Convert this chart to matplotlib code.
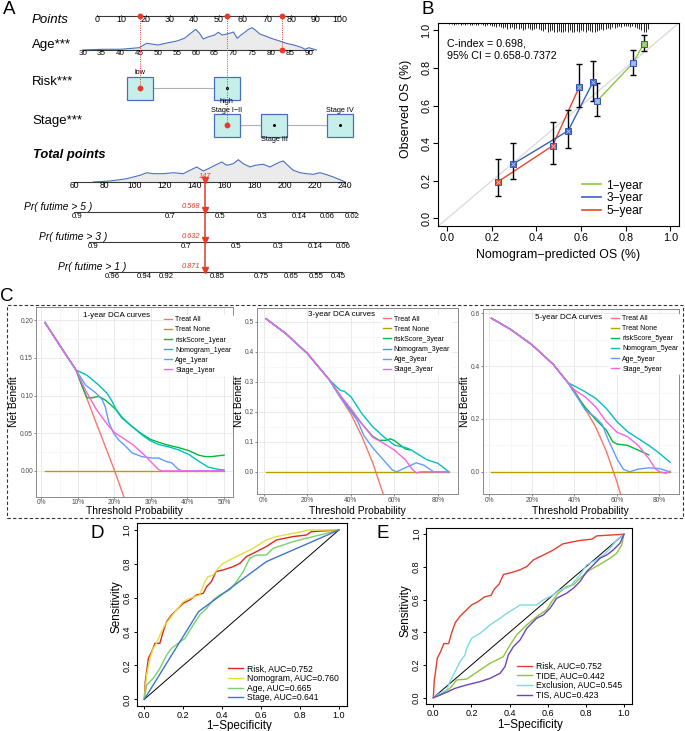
import numpy as np
import matplotlib
matplotlib.use("Agg")
import matplotlib.pyplot as plt
from matplotlib.patches import Rectangle
from matplotlib.lines import Line2D

plt.rcParams['font.family'] = ['Liberation Sans', 'DejaVu Sans']

# ======================= DATA =======================
# ---- Panel A: nomogram ----
points_ticks = [0, 10, 20, 30, 40, 50, 60, 70, 80, 90, 100]
age_ticks = [30, 35, 40, 45, 50, 55, 60, 65, 70, 75, 80, 85, 90]
age_points_per_year = 1.551
age_at_zero_points = 33.8
risk_levels = ['low', 'high']
risk_points = [17.5, 53.3]
stage_levels = ['Stage I\u2212II', 'Stage III', 'Stage IV']
stage_points = [53.3, 73.0, 100.0]
patient_age = 83
patient_risk = 'low'
patient_stage = 'Stage I\u2212II'
total_ticks = [60, 80, 100, 120, 140, 160, 180, 200, 220, 240]
total_score = 147
surv_labels = ['Pr( futime > 5 )', 'Pr( futime > 3 )', 'Pr( futime > 1 )']
surv_at_score = [0.568, 0.632, 0.871]
surv_beta = 0.0198
surv_ticks = [[0.9, 0.7, 0.5, 0.3, 0.14, 0.06, 0.02],
              [0.9, 0.7, 0.5, 0.3, 0.14, 0.06],
              [0.96, 0.94, 0.92, 0.85, 0.75, 0.65, 0.55, 0.45]]
age_grid = [30, 35, 40, 45, 47, 50, 52, 55, 57, 59, 60, 61, 62, 63, 65, 66, 67, 68,
            69, 70, 71, 72, 73, 74, 75, 76, 77, 78, 80, 82, 84, 86, 88, 89, 90, 92]
age_dens = [0.0, 0.7, 0.7, 2.3, 6.7, 5.0, 6.7, 9.0, 11.7, 17.7, 20.7, 16.7, 11.0, 12.7,
            15.0, 17.7, 15.0, 15.7, 16.7, 18.0, 11.7, 15.0, 17.7, 20.7, 22.3, 19.3, 16.0,
            14.7, 11.7, 9.3, 6.7, 5.0, 2.7, 0.7, 2.3, 0.0]
tot_grid = [72.8, 83.9, 95.0, 103.8, 108.3, 112.7, 119.3, 125.9, 132.6, 137.0, 141.5,
            145.9, 149.2, 153.6, 158.1, 161.4, 165.8, 169.1, 172.4, 176.9, 180.2, 185.7,
            190.1, 193.5, 196.8, 199.0, 201.2, 205.6, 210.1, 214.5, 218.9, 223.3, 227.8,
            232.2, 236.6, 240.0]
tot_dens = [0, 1, 3.3, 6.7, 9.3, 8.3, 8.3, 9.3, 8.3, 11.7, 15, 11, 13.3, 16.7, 20, 16.7,
            18.3, 22.3, 18.3, 15, 16.7, 17.7, 15, 17.7, 20, 21, 17.7, 11.7, 9.3, 8.3, 7.7,
            9.3, 7.3, 5, 2.3, 0]

# ---- Panel B: calibration ----
cal_names = ['1\u2212year', '3\u2212year', '5\u2212year']
cal_pred = [[0.673, 0.833, 0.881], [0.293, 0.542, 0.653], [0.226, 0.472, 0.591]]
cal_obs = [[0.626, 0.826, 0.929], [0.288, 0.466, 0.724], [0.194, 0.386, 0.697]]
cal_lo = [[0.543, 0.760, 0.888], [0.208, 0.377, 0.623], [0.119, 0.292, 0.594]]
cal_hi = [[0.719, 0.897, 0.977], [0.400, 0.577, 0.834], [0.315, 0.510, 0.822]]
cindex_text = 'C-index = 0.698,\n95% CI = 0.658-0.7372'
rug_bins = np.round(np.arange(0.01, 0.905, 0.01), 2)
rug_counts = [1, 1, 2, 1, 1, 2, 1, 2, 1, 2,
              2, 1, 2, 2, 1, 2, 3, 2, 2, 3,
              3, 4, 3, 4, 5, 4, 6, 5, 4, 6,
              5, 6, 5, 7, 6, 5, 6, 7, 6, 5,
              6, 7, 8, 6, 9, 8, 7, 9, 10, 8,
              9, 10, 8, 9, 7, 10, 9, 8, 9, 7,
              8, 9, 7, 8, 10, 9, 8, 7, 6, 7,
              6, 5, 6, 4, 5, 4, 3, 4, 3, 3,
              3, 4, 3, 4, 5, 6, 7, 9, 10, 6]

# ---- Panel C: decision curves ----
dca_1 = {
    'Treat All': ([0.01, 0.05, 0.095, 0.15, 0.20, 0.23], [0.197, 0.167, 0.134, 0.064, 0.001, -0.04]),
    'Treat None': ([0.01, 0.50], [0.0, 0.0]),
    'riskScore_1year': ([0.01, 0.05, 0.095, 0.112, 0.125, 0.139, 0.157, 0.175, 0.194, 0.207, 0.221, 0.248,
                         0.275, 0.298, 0.321, 0.348, 0.375, 0.403, 0.430, 0.448, 0.466, 0.50],
                        [0.197, 0.167, 0.134, 0.112, 0.097, 0.097, 0.099, 0.094, 0.086, 0.080, 0.071, 0.059,
                         0.049, 0.042, 0.038, 0.034, 0.031, 0.027, 0.021, 0.019, 0.019, 0.021]),
    'Nomogram_1year': ([0.01, 0.05, 0.095, 0.125, 0.157, 0.180, 0.194, 0.207, 0.221, 0.248, 0.275, 0.298,
                        0.321, 0.348, 0.375, 0.403, 0.430, 0.457, 0.484, 0.50],
                       [0.197, 0.167, 0.134, 0.127, 0.114, 0.103, 0.092, 0.079, 0.070, 0.059, 0.048, 0.040,
                        0.035, 0.032, 0.028, 0.022, 0.013, 0.005, 0.002, 0.0013]),
    'Age_1year': ([0.01, 0.05, 0.095, 0.121, 0.148, 0.166, 0.175, 0.185, 0.198, 0.212, 0.230, 0.248, 0.275,
                   0.303, 0.321, 0.339, 0.357, 0.375, 0.385, 0.50],
                  [0.197, 0.167, 0.134, 0.114, 0.104, 0.095, 0.085, 0.064, 0.050, 0.041, 0.033, 0.024, 0.019,
                   0.017, 0.017, 0.013, 0.0106, 0.002, 0.0, 0.0]),
    'Stage_1year': ([0.01, 0.05, 0.095, 0.12, 0.15, 0.18, 0.20, 0.25, 0.28, 0.30, 0.32, 0.33, 0.50],
                    [0.197, 0.167, 0.134, 0.108, 0.082, 0.062, 0.051, 0.035, 0.022, 0.012, 0.002, 0.0, 0.0]),
}
dca_3 = {
    'Treat All': ([0.01, 0.1, 0.2, 0.3, 0.4, 0.45, 0.5, 0.55], [0.510, 0.461, 0.394, 0.307, 0.192, 0.118, 0.030, -0.078]),
    'Treat None': ([0.01, 0.85], [0.0, 0.0]),
    'riskScore_3year': ([0.01, 0.1, 0.2, 0.3, 0.35, 0.40, 0.45, 0.50, 0.53, 0.56, 0.58, 0.60, 0.62, 0.65, 0.67],
                        [0.510, 0.461, 0.394, 0.307, 0.255, 0.205, 0.16, 0.118, 0.105, 0.105, 0.11, 0.104, 0.093, 0.076, 0.073]),
    'Nomogram_3year': ([0.01, 0.1, 0.2, 0.3, 0.35, 0.37, 0.40, 0.45, 0.50, 0.55, 0.60, 0.65, 0.68, 0.70, 0.75, 0.78, 0.80, 0.85],
                       [0.510, 0.461, 0.394, 0.307, 0.272, 0.268, 0.25, 0.194, 0.15, 0.117, 0.089, 0.081, 0.072, 0.062, 0.04, 0.033, 0.028, 0.0]),
    'Age_3year': ([0.01, 0.1, 0.2, 0.3, 0.35, 0.40, 0.43, 0.46, 0.50, 0.55, 0.59, 0.61, 0.66, 0.70, 0.735, 0.78, 0.85],
                  [0.510, 0.461, 0.394, 0.307, 0.25, 0.20, 0.17, 0.12, 0.08, 0.039, 0.006, 0.0, 0.017, 0.030, 0.022, 0.0, 0.0]),
    'Stage_3year': ([0.01, 0.1, 0.2, 0.3, 0.35, 0.40, 0.45, 0.50, 0.55, 0.60, 0.65, 0.68, 0.70, 0.72, 0.85],
                    [0.510, 0.461, 0.394, 0.307, 0.255, 0.21, 0.16, 0.115, 0.095, 0.072, 0.04, 0.01, -0.004, 0.0, 0.0]),
}
dca_5 = {
    'Treat All': ([0.01, 0.1, 0.2, 0.3, 0.4, 0.5, 0.55, 0.6, 0.63], [0.581, 0.539, 0.481, 0.407, 0.308, 0.170, 0.078, -0.038, -0.12]),
    'Treat None': ([0.01, 0.85], [0.0, 0.0]),
    'riskScore_5year': ([0.01, 0.1, 0.2, 0.3, 0.37, 0.40, 0.45, 0.50, 0.55, 0.58, 0.60, 0.65, 0.70, 0.75],
                        [0.581, 0.539, 0.481, 0.407, 0.337, 0.30, 0.245, 0.198, 0.158, 0.114, 0.105, 0.10, 0.082, 0.064]),
    'Nomogram_5year': ([0.01, 0.1, 0.2, 0.3, 0.37, 0.40, 0.45, 0.50, 0.55, 0.60, 0.65, 0.70, 0.75, 0.80, 0.85],
                       [0.581, 0.539, 0.481, 0.407, 0.337, 0.325, 0.303, 0.278, 0.24, 0.19, 0.152, 0.126, 0.10, 0.07, 0.036]),
    'Age_5year': ([0.01, 0.1, 0.2, 0.3, 0.37, 0.40, 0.45, 0.50, 0.53, 0.56, 0.60, 0.63, 0.66, 0.70, 0.75, 0.80, 0.85],
                  [0.581, 0.539, 0.481, 0.407, 0.337, 0.30, 0.235, 0.205, 0.18, 0.12, 0.05, 0.01, 0.0, 0.01, 0.015, 0.012, 0.0]),
    'Stage_5year': ([0.01, 0.1, 0.2, 0.3, 0.37, 0.40, 0.45, 0.50, 0.55, 0.60, 0.65, 0.70, 0.75, 0.78, 0.80, 0.83, 0.85],
                    [0.581, 0.539, 0.481, 0.407, 0.337, 0.31, 0.284, 0.246, 0.19, 0.15, 0.133, 0.10, 0.05, 0.012, 0.0, -0.006, 0.002]),
}
dca_titles = ['1-year DCA curves', '3-year DCA curves', '5-year DCA curves']
dca_colors = ['#F8766D', '#B79F00', '#00BA38', '#00BFC4', '#619CFF', '#F564E3']

# ---- Panel D / E: ROC ----
roc_risk = ([0, 0.005, 0.012, 0.021, 0.038, 0.055, 0.080, 0.097, 0.115, 0.140, 0.174, 0.200, 0.234, 0.268,
             0.303, 0.320, 0.345, 0.368, 0.405, 0.456, 0.491, 0.525, 0.576, 0.627, 0.679, 0.764, 0.832, 0.858, 1.0],
            [0, 0.104, 0.163, 0.242, 0.281, 0.331, 0.331, 0.400, 0.459, 0.498, 0.537, 0.567, 0.587, 0.616,
             0.626, 0.665, 0.695, 0.754, 0.764, 0.783, 0.803, 0.843, 0.872, 0.902, 0.941, 0.961, 0.970, 0.990, 1.0])
roc_nomo = ([0, 0.005, 0.012, 0.029, 0.046, 0.063, 0.080, 0.106, 0.132, 0.166, 0.200, 0.234, 0.285, 0.311,
             0.328, 0.354, 0.379, 0.405, 0.439, 0.474, 0.525, 0.559, 0.627, 0.679, 0.764, 0.850, 1.0],
            [0, 0.065, 0.144, 0.242, 0.301, 0.331, 0.380, 0.439, 0.478, 0.528, 0.577, 0.596, 0.616, 0.695,
             0.724, 0.734, 0.774, 0.803, 0.823, 0.843, 0.872, 0.892, 0.941, 0.961, 0.980, 1.0, 1.0])
roc_age = ([0, 0.012, 0.046, 0.080, 0.115, 0.140, 0.174, 0.209, 0.251, 0.285, 0.320, 0.354, 0.388, 0.439,
            0.474, 0.508, 0.542, 0.576, 0.627, 0.662, 0.713, 0.764, 0.832, 0.901, 1.0],
           [0, 0.085, 0.124, 0.183, 0.262, 0.301, 0.331, 0.360, 0.439, 0.498, 0.537, 0.587, 0.616, 0.646,
            0.695, 0.754, 0.833, 0.852, 0.852, 0.892, 0.911, 0.931, 0.951, 0.970, 1.0])
roc_stage = ([0, 0.279, 0.627, 1.0], [0, 0.518, 0.813, 1.0])
roc_tide = ([0, 0.035, 0.087, 0.122, 0.175, 0.245, 0.297, 0.367, 0.402, 0.437, 0.490, 0.542, 0.594, 0.621,
             0.656, 0.699, 0.734, 0.769, 0.822, 0.874, 0.927, 0.962, 0.988, 1.0],
            [0, 0.016, 0.057, 0.108, 0.114, 0.169, 0.210, 0.251, 0.322, 0.384, 0.445, 0.496, 0.537, 0.588,
             0.639, 0.680, 0.690, 0.731, 0.782, 0.816, 0.853, 0.884, 0.935, 1.0])
roc_excl = ([0, 0.035, 0.070, 0.087, 0.114, 0.140, 0.166, 0.175, 0.201, 0.245, 0.297, 0.350, 0.385, 0.428,
             0.455, 0.542, 0.577, 0.629, 0.664, 0.717, 0.769, 0.804, 0.839, 0.892, 0.927, 0.962, 1.0],
            [0, 0.027, 0.047, 0.098, 0.159, 0.220, 0.261, 0.302, 0.363, 0.394, 0.445, 0.486, 0.516, 0.547,
             0.567, 0.567, 0.598, 0.629, 0.659, 0.680, 0.751, 0.812, 0.833, 0.873, 0.914, 0.965, 1.0])
roc_tis = ([0, 0.035, 0.070, 0.114, 0.175, 0.245, 0.297, 0.350, 0.376, 0.393, 0.420, 0.455, 0.490, 0.542,
            0.577, 0.612, 0.647, 0.699, 0.734, 0.769, 0.804, 0.839, 0.874, 0.909, 0.944, 0.979, 1.0],
           [0, 0.016, 0.033, 0.057, 0.078, 0.098, 0.118, 0.149, 0.190, 0.261, 0.312, 0.353, 0.424, 0.486,
            0.506, 0.547, 0.608, 0.639, 0.669, 0.710, 0.771, 0.812, 0.853, 0.873, 0.904, 0.945, 1.0])
rocD_labels = ['Risk, AUC=0.752', 'Nomogram, AUC=0.760', 'Age, AUC=0.665', 'Stage, AUC=0.641']
rocE_labels = ['Risk, AUC=0.752', 'TIDE, AUC=0.442', 'Exclusion, AUC=0.545', 'TIS, AUC=0.423']

# ======================= FIGURE =======================
W, H = 685, 731
fig = plt.figure(figsize=(W / 100, H / 100), dpi=100)


def add_ax(l, t, r, b):
    return fig.add_axes([l / W, 1 - b / H, (r - l) / W, (b - t) / H])


def ftext(x, y, s, **kw):
    fig.text(x / W, 1 - y / H, s, **kw)


RED = '#e8392b'
AXC = '#3a3a3a'

# ---------------- Panel A ----------------
PX0, PXS = 97.0, 2.43


def px2x(px):
    return (px - PX0) / PXS


def tp2x(tp):
    return px2x(74.0 + (tp - 60) * 1.506)


def age2x(a):
    return (a - age_at_zero_points) * age_points_per_year


def surv2tp(s, s_ref):
    return total_score + (np.log(-np.log(s)) - np.log(-np.log(s_ref))) / surv_beta


axA = add_ax(0, 0, 360, 300)
axA.set_xlim(px2x(0), px2x(360))
axA.set_ylim(300, 0)
axA.axis('off')

lab_kw = dict(fontsize=9.5, va='center', ha='left')
# Points axis
yP = 16
axA.plot([0, 100], [yP, yP], color=AXC, lw=0.8)
for t in points_ticks:
    axA.plot([t, t], [yP, yP - 1.5], color=AXC, lw=0.6)
    axA.text(t, yP + 3.6, str(t), fontsize=6.4, ha='center', va='center')
axA.text(px2x(32), 20, 'Points', style='italic', **lab_kw)

# Age axis with density
yA = 50
ax_age = [age2x(a) for a in age_grid]
axA.fill_between(ax_age, yA, yA - np.array(age_dens), color='#ebebeb', lw=0)
axA.plot(ax_age, yA - np.array(age_dens), color='#4a6fc2', lw=0.8)
axA.plot([age2x(30), age2x(91)], [yA, yA], color=AXC, lw=0.8)
for a in age_ticks:
    axA.plot([age2x(a)] * 2, [yA, yA + 1.2], color=AXC, lw=0.6)
    axA.text(age2x(a), yA + 3.6, str(a), fontsize=5.8, ha='center', va='center')
axA.text(px2x(32), 45, 'Age***', **lab_kw)

# Risk row
yR = 88
bw, bh = 26 / PXS, 23
axA.plot(risk_points, [yR, yR], color='#b0b0b0', lw=0.8, zorder=1)
for lv, p in zip(risk_levels, risk_points):
    axA.add_patch(Rectangle((p - bw / 2, yR - bh / 2), bw, bh, fc='#c6efea', ec='#4a6fc2', lw=0.9, zorder=2))
    axA.plot(p, yR, 'o', ms=1.2, color='black', zorder=3)
axA.text(risk_points[0], yR - 15, risk_levels[0], fontsize=5.3, ha='center', va='center')
axA.text(risk_points[1], yR + 13.5, risk_levels[1], fontsize=5.3, ha='center', va='center')
axA.text(px2x(32), 82, 'Risk***', **lab_kw)

# Stage row
yS = 125
axA.plot([stage_points[0], stage_points[-1]], [yS, yS], color='#b0b0b0', lw=0.8, zorder=1)
for lv, p in zip(stage_levels, stage_points):
    axA.add_patch(Rectangle((p - bw / 2, yS - bh / 2), bw, bh, fc='#c6efea', ec='#4a6fc2', lw=0.9, zorder=2))
    axA.plot(p, yS, 'o', ms=1.2, color='black', zorder=3)
axA.text(stage_points[0], yS - 14, stage_levels[0], fontsize=5.3, ha='center', va='center')
axA.text(stage_points[1], yS + 14.5, stage_levels[1], fontsize=5.3, ha='center', va='center')
axA.text(stage_points[2], yS - 14, stage_levels[2], fontsize=5.3, ha='center', va='center')
axA.text(px2x(32), 121, 'Stage***', **lab_kw)

# patient point lines
pa = age2x(patient_age)
pr = risk_points[risk_levels.index(patient_risk)]
ps = stage_points[stage_levels.index(patient_stage)]
for xv, yv in [(pa, yA), (pr, yR), (ps, yS)]:
    axA.plot([xv, xv], [yP, yv], color=RED, lw=0.7, ls=(0, (1, 1.3)), zorder=4)
    axA.plot(xv, yP, 'o', ms=3.2, color=RED, zorder=5)
    axA.plot(xv, yv, 'o', ms=3.2, color=RED, zorder=5)

# Total points
yT = 182
axA.text(px2x(33), 155, 'Total points', fontsize=9.3, fontweight='bold', style='italic', va='center', ha='left')
tx = [tp2x(t) for t in tot_grid]
axA.fill_between(tx, yT, yT - np.array(tot_dens), color='#ebebeb', lw=0)
axA.plot(tx, yT - np.array(tot_dens), color='#4a6fc2', lw=0.8)
axA.plot([tp2x(60), tp2x(240)], [yT, yT], color=AXC, lw=0.8)
for t in total_ticks:
    axA.plot([tp2x(t)] * 2, [yT, yT + 1.2], color=AXC, lw=0.6)
    axA.text(tp2x(t), yT + 4, str(t), fontsize=6.2, ha='center', va='center')
xs = tp2x(total_score)
axA.text(xs, yT - 5.5, str(total_score), color=RED, fontsize=5.3, style='italic', ha='center', va='center')

# survival axes
ys_rows = [212, 242, 272]
lab_right = [92, 107, 126]
for lab, sref, ticks_s, yy, lr in zip(surv_labels, surv_at_score, surv_ticks, ys_rows, lab_right):
    pos = [tp2x(surv2tp(s, sref)) for s in ticks_s]
    axA.plot([min(pos) - 1.5, max(pos) + 1.5], [yy, yy], color=AXC, lw=0.8)
    for s, p in zip(ticks_s, pos):
        axA.plot([p, p], [yy, yy + 1.2], color=AXC, lw=0.6)
        axA.text(p, yy + 4.3, ('%g' % s), fontsize=5.6, ha='center', va='center')
    axA.text(px2x(lr), yy - 5, lab, fontsize=7.4, style='italic', ha='right', va='center')
    axA.text(xs - 2.2, yy - 5.5, '%.3f' % sref, color=RED, fontsize=5.3, style='italic', ha='right', va='center')
    axA.plot(xs, yy - 2.2, 'v', ms=4.4, color=RED, zorder=6)
axA.plot(xs, yT - 2.2, 'v', ms=4.4, color=RED, zorder=6)
axA.plot([xs, xs], [yT, ys_rows[-1]], color=RED, lw=1.1, zorder=5)

# ---------------- Panel B ----------------
axB = add_ax(438.3, 22.7, 679.3, 226)
axB.set_xlim(-0.04, 1.04)
axB.set_ylim(-0.04, 1.04)
axB.plot([-0.04, 1.04], [-0.04, 1.04], color='#dcdcdc', lw=1.0, zorder=1)
rc = np.array(rug_counts)
axB.vlines(rug_bins, 1.04 - rc * 0.0052, 1.04, color='#222222', lw=0.7, zorder=2)
cal_colors = ['#8cc83c', '#3a5fbf', '#e8452e']
for i in [2, 1, 0]:
    x = np.array(cal_pred[i]); y = np.array(cal_obs[i])
    axB.plot(x, y, color=cal_colors[i], lw=1.0, zorder=3)
for i in [2, 1, 0]:
    x = np.array(cal_pred[i]); y = np.array(cal_obs[i])
    lo = np.array(cal_lo[i]); hi = np.array(cal_hi[i])
    axB.errorbar(x, y, yerr=[y - lo, hi - y], fmt='none', ecolor='black', elinewidth=1.0,
                 capsize=2.2, capthick=1.0, zorder=4)
    axB.plot(x, y, 's', ms=4, mfc=cal_colors[i], mec='#3557b7', mew=0.7, zorder=5)
    axB.plot(x, y, 'x', ms=3, color='#b8c8f0', mew=0.6, zorder=6)
axB.text(0.0, 0.895, cindex_text, fontsize=7.7, va='center', ha='left', linespacing=1.25)
ticks = [0.0, 0.2, 0.4, 0.6, 0.8, 1.0]
axB.set_xticks(ticks)
axB.set_xticklabels(['%.1f' % t for t in ticks])
axB.set_yticks(ticks)
axB.set_yticklabels(['%.1f' % t for t in ticks], rotation=90, va='center')
axB.tick_params(direction='out', length=3.5, width=0.8, labelsize=7.8, pad=1.5)
for s in axB.spines.values():
    s.set_linewidth(0.8)
hB = [Line2D([], [], color=c, lw=1.2) for c in cal_colors]
axB.legend(hB, cal_names, loc='lower left', bbox_to_anchor=(0.595, 0.045), frameon=False,
           fontsize=8.6, handlelength=1.6, handletextpad=0.45, labelspacing=0.05, borderpad=0,
           borderaxespad=0)
ftext(558, 255, 'Nomogram\u2212predicted OS (%)', fontsize=8.9, ha='center', va='center')
ftext(406.5, 109, 'Observed OS (%)', fontsize=8.9, ha='center', va='center', rotation=90)


# ---------------- Panel C ----------------
def dca_panel(rect, data, xlim, ylim, xticks, yticks, yfmt, title, title_xy, leg_xy, ylab_x):
    ax = add_ax(*rect)
    ax.set_xlim(*xlim)
    ax.set_ylim(*ylim)
    ax.set_xticks(xticks)
    ax.set_xticklabels(['%d%%' % round(t * 100) for t in xticks])
    ax.set_yticks(yticks)
    ax.set_yticklabels([yfmt % t for t in yticks])
    ax.set_xticks([(a + b) / 2 for a, b in zip(xticks[:-1], xticks[1:])], minor=True)
    ax.set_yticks([(a + b) / 2 for a, b in zip(yticks[:-1], yticks[1:])], minor=True)
    ax.grid(which='major', color='#e6e6e6', lw=0.6)
    ax.grid(which='minor', color='#f2f2f2', lw=0.4)
    ax.set_axisbelow(True)
    for s in ax.spines.values():
        s.set_color('#8a8a8a')
        s.set_linewidth(0.7)
    ax.tick_params(which='major', length=1.5, width=0.5, color='#555555', labelsize=4.8,
                   labelcolor='#4d4d4d', pad=0.6)
    ax.tick_params(which='minor', length=0)
    handles = []
    for (name, (xv, yv)), col in zip(data.items(), dca_colors):
        ln, = ax.plot(xv, yv, color=col, lw=1.0, label=name)
        handles.append(ln)
    ax.legend(handles=handles, loc='upper left', bbox_to_anchor=leg_xy, fontsize=5.0, frameon=True,
              facecolor='white', edgecolor='white', framealpha=1, handlelength=1.2, handletextpad=0.4,
              labelspacing=0.45, borderpad=0.15, borderaxespad=0)
    ax.text(title_xy[0], title_xy[1], title, transform=ax.transAxes, fontsize=5.8, ha='center', va='center')
    ax.text(ylab_x, 0.5, 'Net Benefit', transform=ax.transAxes, fontsize=7.4, rotation=90,
            ha='center', va='center')
    cx = (rect[0] + rect[2]) / 2
    ftext(cx, 511, 'Threshold Probability', fontsize=7.4, ha='center', va='center')
    return ax


dca_panel((36, 306.7, 233, 496.5), dca_1, (-0.0145, 0.5245), (-0.034, 0.218),
          [0, 0.1, 0.2, 0.3, 0.4, 0.5], [0, 0.05, 0.10, 0.15, 0.20], '%.2f',
          dca_titles[0], (0.41, 0.953), (0.645, 0.955), -0.112)
dca_panel((257, 308.3, 458, 494), dca_3, (-0.032, 0.892), (-0.074, 0.545),
          [0, 0.2, 0.4, 0.6, 0.8], [0, 0.1, 0.2, 0.3, 0.4, 0.5], '%.1f',
          dca_titles[1], (0.42, 0.964), (0.62, 0.966), -0.088)
dca_panel((482.5, 309, 679, 494), dca_5, (-0.032, 0.892), (-0.084, 0.616),
          [0, 0.2, 0.4, 0.6, 0.8], [0, 0.2, 0.4, 0.6], '%.1f',
          dca_titles[2], (0.44, 0.953), (0.649, 0.973), -0.088)

fig.add_artist(Rectangle((6.7 / W, 1 - 517.5 / H), (683 - 6.7) / W, (517.5 - 305) / H,
                         transform=fig.transFigure, fill=False, ls=(0, (3, 2)), lw=0.8, ec='#333333'))


# ---------------- Panels D and E ----------------
def roc_panel(rect, curves, colors, labels, leg_xy, ylab_px, xlab_px):
    ax = add_ax(*rect)
    ax.set_xlim(-0.04, 1.04)
    ax.set_ylim(-0.04, 1.04)
    ax.plot([0, 1], [0, 1], color='black', lw=0.7, zorder=1)
    handles = []
    for k, ((xv, yv), c, lb) in enumerate(zip(curves, colors, labels)):
        ln, = ax.plot(xv, yv, color=c, lw=1.0, label=lb, zorder=2 + k)
        handles.append(ln)
    ax.set_xticks(ticks)
    ax.set_xticklabels(['%.1f' % t for t in ticks])
    ax.set_yticks(ticks)
    ax.set_yticklabels(['%.1f' % t for t in ticks], rotation=90, va='center')
    ax.tick_params(direction='out', length=2.5, width=0.7, labelsize=6.5, pad=1.0)
    for s in ax.spines.values():
        s.set_linewidth(0.8)
    ax.legend(handles=handles, loc='lower left', bbox_to_anchor=leg_xy, frameon=False, fontsize=6.2,
              handlelength=1.8, handletextpad=0.45, labelspacing=0.08, borderpad=0, borderaxespad=0)
    ftext(ylab_px[0], ylab_px[1], 'Sensitivity', fontsize=8.4, rotation=90, ha='center', va='center')
    ftext(xlab_px[0], xlab_px[1], '1\u2212Specificity', fontsize=8.4, ha='center', va='center')
    return ax


roc_panel((136.5, 523.2, 346.7, 706.1), [roc_risk, roc_nomo, roc_age, roc_stage],
          ['#e3261f', '#dde23c', '#74d36b', '#3f74cc'], rocD_labels, (0.435, 0.02),
          (116.5, 607), (239.5, 725.8))
roc_panel((425.7, 527.7, 631.6, 704.2), [roc_risk, roc_tide, roc_excl, roc_tis],
          ['#e0402e', '#8cc63e', '#7fd8e6', '#6c43c3'], rocE_labels, (0.442, 0.025),
          (405, 611), (530, 725))

# panel letters
for s, x, y in [('A', 9, 9), ('B', 428, 9), ('C', 7, 297), ('D', 97, 533), ('E', 383, 533)]:
    ftext(x, y, s, fontsize=13.5, ha='center', va='center')

fig.savefig('out.png', dpi=100)
